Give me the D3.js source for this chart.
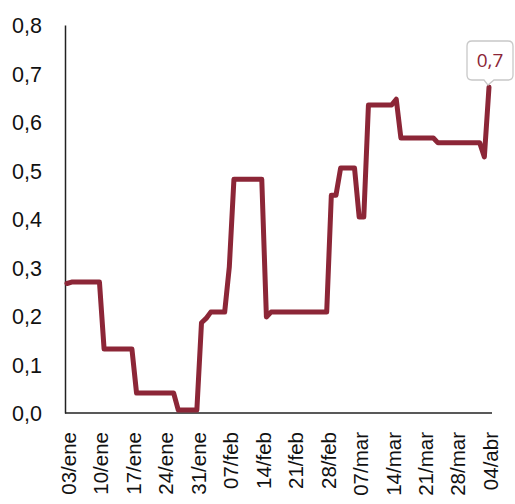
<!DOCTYPE html>
<html>
<head>
<meta charset="utf-8">
<script src="https://cdn.jsdelivr.net/npm/d3@7"></script>
<style>
  html, body { margin: 0; padding: 0; background: #fff; }
  svg { display: block; font-family: "Open Sans", Lato, sans-serif; }
</style>
</head>
<body>
<svg id="chart" width="515" height="504"></svg>
<script>
// Daily series, listed at the days where it changes
const dates = [
  "2022-01-03", "2022-01-04", "2022-01-10", "2022-01-11", "2022-01-17", "2022-01-18",
  "2022-01-26", "2022-01-27", "2022-01-31", "2022-02-01", "2022-02-02", "2022-02-03",
  "2022-02-06", "2022-02-07", "2022-02-08", "2022-02-14", "2022-02-15", "2022-02-16",
  "2022-02-28", "2022-03-01", "2022-03-02", "2022-03-03", "2022-03-06", "2022-03-07",
  "2022-03-08", "2022-03-09", "2022-03-14", "2022-03-15", "2022-03-16", "2022-03-23",
  "2022-03-24", "2022-04-02", "2022-04-03", "2022-04-04"
];
const values = [
  0.267, 0.27, 0.27, 0.132, 0.132, 0.041,
  0.041, 0.006, 0.006, 0.186, 0.195, 0.208,
  0.208, 0.301, 0.482, 0.482, 0.198, 0.208,
  0.208, 0.449, 0.449, 0.505, 0.505, 0.404,
  0.404, 0.635, 0.635, 0.647, 0.567, 0.567,
  0.557, 0.557, 0.528, 0.672
];
const xTickDates = [
  "2022-01-03", "2022-01-10", "2022-01-17", "2022-01-24", "2022-01-31", "2022-02-07",
  "2022-02-14", "2022-02-21", "2022-02-28", "2022-03-07", "2022-03-14", "2022-03-21",
  "2022-03-28", "2022-04-04"
];
const yTicks = [0, 0.1, 0.2, 0.3, 0.4, 0.5, 0.6, 0.7, 0.8];
const monthNames = ["ene", "feb", "mar", "abr", "may", "jun", "jul", "ago", "sep", "oct", "nov", "dic"];

const lineColor = "#8c2637";
const parse = d3.timeParse("%Y-%m-%d");
const data = dates.map((d, i) => ({ date: parse(d), value: values[i] }));

const svg = d3.select("#chart");

const x = d3.scaleTime()
  .domain([parse("2022-01-03"), parse("2022-04-04")])
  .range([67, 489]);
const y = d3.scaleLinear()
  .domain([0, 0.8])
  .range([413, 25]);

const fmtComma = f => v => f(v).replace(".", ",");
const yFmt = fmtComma(d3.format(".1f"));
const dayMonth = d => d3.timeFormat("%d")(d) + "/" + monthNames[d.getMonth()];

// Y axis
const yAxis = svg.append("g")
  .attr("transform", "translate(65,0)")
  .call(d3.axisLeft(y).tickValues(yTicks).tickFormat(yFmt).tickSize(0).tickPadding(23));
yAxis.select(".domain").attr("stroke", "#222").attr("stroke-width", 1.5);
yAxis.selectAll("text")
  .attr("font-size", 21.5)
  .attr("fill", "#111")
  .attr("dy", "0.36em");

// X axis
const xAxis = svg.append("g")
  .attr("transform", "translate(0,413)")
  .call(d3.axisBottom(x).tickValues(xTickDates.map(parse)).tickFormat(dayMonth).tickSize(0));
xAxis.select(".domain")
  .attr("d", "M65,0H492")
  .attr("stroke", "#222").attr("stroke-width", 1.5);
xAxis.selectAll("text")
  .attr("font-size", 20.5)
  .attr("fill", "#111")
  .attr("text-anchor", "end")
  .attr("transform", "rotate(-90)")
  .attr("x", -19)
  .attr("y", 1)
  .attr("dy", "0.36em");

// Series line
const line = d3.line()
  .x(d => x(d.date))
  .y(d => y(d.value));

svg.append("path")
  .datum(data)
  .attr("fill", "none")
  .attr("stroke", lineColor)
  .attr("stroke-width", 5)
  .attr("stroke-linejoin", "round")
  .attr("stroke-linecap", "round")
  .attr("d", line);

// Callout on the last point
const last = data[data.length - 1];
const px = x(last.date), py = y(last.value);
const bx0 = 467, bx1 = 513, by0 = 41, by1 = 80, r = 5;
const tipX = px - 1, tipY = py - 2;
const callout = svg.append("g");
callout.append("path")
  .attr("d", [
    `M${bx0 + r},${by0}`,
    `H${bx1 - r}`, `Q${bx1},${by0} ${bx1},${by0 + r}`,
    `V${by1 - r}`, `Q${bx1},${by1} ${bx1 - r},${by1}`,
    `H${tipX + 6}`, `L${tipX},${tipY}`, `L${tipX - 4},${by1}`,
    `H${bx0 + r}`, `Q${bx0},${by1} ${bx0},${by1 - r}`,
    `V${by0 + r}`, `Q${bx0},${by0} ${bx0 + r},${by0}`, "Z"
  ].join(" "))
  .attr("fill", "#fff")
  .attr("stroke", "#c8c8c8")
  .attr("stroke-width", 1.3);
callout.append("text")
  .attr("x", (bx0 + bx1) / 2)
  .attr("y", (by0 + by1) / 2)
  .attr("dy", "0.36em")
  .attr("text-anchor", "middle")
  .attr("font-size", 19)
  .attr("fill", lineColor)
  .text(yFmt(last.value));
</script>
</body>
</html>
